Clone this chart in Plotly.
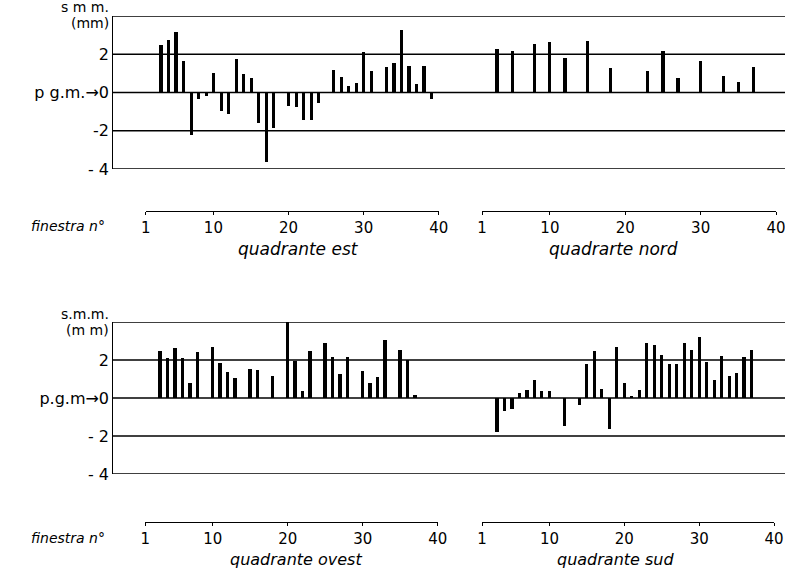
import plotly.graph_objects as go

# reference frame (pixels of the target picture)
W, H = 785, 568
# rendered figure size (the photographed page is slightly shrunk, so draw a bit larger)
FW, FH = 796, 578

# ---------------- data ----------------
est_win = [3, 4, 5, 6, 7, 8, 9, 10, 11, 12, 13, 14, 15, 16, 17, 18,
           20, 21, 22, 23, 24, 26, 27, 28, 29, 30, 31, 33, 34, 35, 36, 37, 38, 39]
est_val = [2.5, 2.75, 3.15, 1.65, -2.2, -0.35, -0.2, 1.0, -0.95, -1.1, 1.75, 0.95, 0.75, -1.6, -3.65, -1.85,
           -0.7, -0.75, -1.45, -1.45, -0.55, 1.2, 0.8, 0.35, 0.5, 2.1, 1.1, 1.35, 1.55, 3.25, 1.4, 0.45, 1.4, -0.35]

nord_win = [3, 5, 8, 10, 12, 15, 18, 23, 25, 27, 30, 33, 35, 37]
nord_val = [2.25, 2.15, 2.55, 2.65, 1.8, 2.7, 1.3, 1.15, 2.15, 0.75, 1.65, 0.85, 0.55, 1.35]

ovest_win = [3, 4, 5, 6, 7, 8, 10, 11, 12, 13, 15, 16, 18, 20, 21, 22, 23,
             25, 26, 27, 28, 30, 31, 32, 33, 35, 36, 37]
ovest_val = [2.5, 2.1, 2.65, 2.1, 0.8, 2.4, 2.7, 1.85, 1.35, 1.05, 1.55, 1.45, 1.15, 4.0, 1.95, 0.35, 2.5,
             2.9, 2.15, 1.25, 2.15, 1.4, 0.8, 1.1, 3.05, 2.55, 2.0, 0.15]

sud_win = [3, 4, 5, 6, 7, 8, 9, 10, 12, 14, 15, 16, 17, 18, 19, 20, 21, 22, 23, 24,
           25, 26, 27, 28, 29, 30, 31, 32, 33, 34, 35, 36, 37]
sud_val = [-1.8, -0.7, -0.6, 0.25, 0.4, 0.95, 0.35, 0.35, -1.45, -0.35, 1.8, 2.45, 0.45, -1.65, 2.7, 0.78,
           0.12, 0.4, 2.9, 2.8, 2.25, 1.8, 1.8, 2.9, 2.55, 3.2, 1.9, 0.95, 2.2, 1.15, 1.3, 2.15, 2.55]

x_ticks = [1, 10, 20, 30, 40]
y_ticks = [-4, -2, 0, 2]
y_text_top = ["- 4", "-2", "p g.m.→0", "2"]
y_text_bot = ["- 4", "- 2", "p.g.m→0", "2"]
grid_levels = [-4, -2, 0, 2, 4]

FONT = "DejaVu Sans"


def px(x):
    return x / W


def py(y):
    return 1 - y / H


fig = go.Figure()
panels = [("x", "y", est_win, est_val), ("x2", "y", nord_win, nord_val),
          ("x3", "y2", ovest_win, ovest_val), ("x4", "y2", sud_win, sud_val)]
for xa, ya, xs, ys in panels:
    fig.add_trace(go.Bar(x=xs, y=ys, xaxis=xa, yaxis=ya, width=0.42,
                         marker=dict(color="black", line=dict(width=0)),
                         showlegend=False, hoverinfo="skip"))

xa_common = dict(range=[1, 40], anchor="free", tickvals=x_ticks, showline=True,
                 linecolor="black", linewidth=1.4, ticks="outside", ticklen=3,
                 tickwidth=1.4, tickcolor="black", showgrid=False, zeroline=False,
                 tickfont=dict(family=FONT, size=15, color="black"))
ya_common = dict(range=[-4, 4], anchor="free", position=px(108), tickvals=y_ticks,
                 showline=True, linecolor="black", linewidth=1.4, ticks="",
                 showgrid=False, zeroline=False,
                 tickfont=dict(family=FONT, size=16, color="black"))

fig.update_layout(
    width=FW, height=FH, autosize=False, margin=dict(l=0, r=0, t=0, b=0),
    paper_bgcolor="white", plot_bgcolor="white", bargap=0,
    xaxis=dict(domain=[px(141.5), px(436)], position=py(211), **xa_common),
    xaxis2=dict(domain=[px(479.5), px(775)], position=py(211), **xa_common),
    xaxis3=dict(domain=[px(141), px(435)], position=py(522), **xa_common),
    xaxis4=dict(domain=[px(479.5), px(773)], position=py(522), **xa_common),
    yaxis=dict(domain=[py(169), py(16)], ticktext=y_text_top, **ya_common),
    yaxis2=dict(domain=[py(474), py(322)], ticktext=y_text_bot, **ya_common),
)

shapes = []
for yref in ["y", "y2"]:
    for lv in grid_levels:
        shapes.append(dict(type="line", xref="paper", yref=yref, x0=px(108), x1=1,
                           y0=lv, y1=lv, line=dict(color="black", width=1.4), layer="below"))
fig.update_layout(shapes=shapes)

ann = []


def add(text, x, y, size=15, xanchor="center", italic=False):
    t = f"<i>{text}</i>" if italic else text
    ann.append(dict(text=t, x=px(x), y=py(y), xref="paper", yref="paper", showarrow=False,
                    xanchor=xanchor, yanchor="middle", borderpad=0,
                    font=dict(family=FONT, size=size, color="black")))


add("s m m.", 106, 7, 14, "right")
add("(mm)", 106, 23, 14, "right")
add("s.m.m.", 106, 314, 14, "right")
add("(m m)", 106, 330, 14, "right")
add("finestra n°", 25, 226, 14, "left", True)
add("finestra n°", 25, 538, 14, "left", True)
add("quadrante est", 295, 249, 17, "center", True)
add("quadrarte nord", 612, 249, 17, "center", True)
add("quadrante ovest", 292, 559, 16, "center", True)
add("quadrante sud", 614, 559, 16, "center", True)
fig.update_layout(annotations=ann)

fig.write_html(
    "out.html",
    post_script="document.documentElement.style.margin='0';document.body.style.margin='0';"
                "document.body.style.overflow='hidden';",
)
